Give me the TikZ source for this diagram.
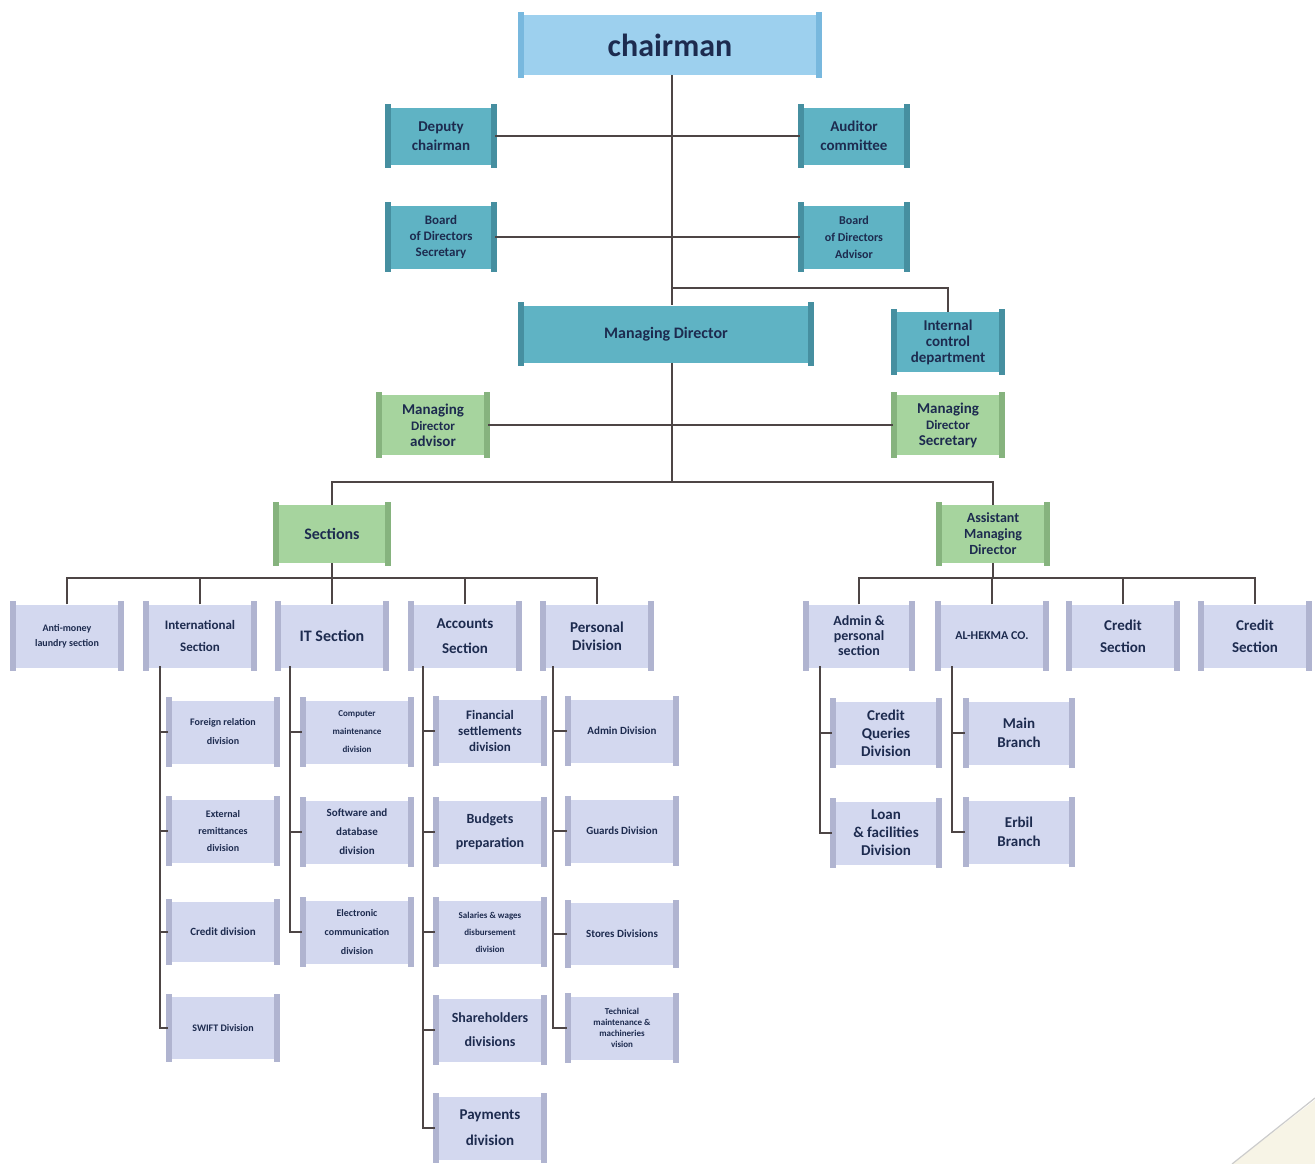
\documentclass[tikz,border=0pt]{standalone}
\usepackage{fontspec}
\setmainfont{Carlito}
\usetikzlibrary{calc}
\definecolor{skyF}{HTML}{9DD0EE}
\definecolor{skyE}{HTML}{78B8DE}
\definecolor{tealF}{HTML}{5FB3C4}
\definecolor{tealE}{HTML}{468FA0}
\definecolor{grnF}{HTML}{A6D49E}
\definecolor{grnE}{HTML}{86B37E}
\definecolor{lavF}{HTML}{D3D8EF}
\definecolor{lavE}{HTML}{B0B4D0}
\definecolor{txt}{HTML}{1D2B4F}
\definecolor{ln}{HTML}{4D4545}
\definecolor{curl}{HTML}{F7F4E6}
\newcommand\fs[2]{\fontsize{#1}{#2}\selectfont}
% name, cx, cy, w, h, kind, font, text
\newcommand\obox[8]{%
  \node[orgbox, fill=#6F, minimum width=#4pt, minimum height=#5pt, font={\bfseries#7}] (#1) at (#2,#3) {#8};
  \fill[#6E] ($(#1.north west)+(-2,-3)$) rectangle ($(#1.south west)+(4,3)$);
  \fill[#6E] ($(#1.north east)+(2,-3)$) rectangle ($(#1.south east)+(-4,3)$);
}
\begin{document}
\begin{tikzpicture}[x=1pt,y=-1pt,
  orgbox/.style={rectangle, draw=none, inner sep=1pt, align=center, text=txt},
  conn/.style={draw=ln, line width=2.8pt},
  tconn/.style={draw=ln, line width=2pt},
  sconn/.style={draw=ln, line width=2.4pt}]
\useasboundingbox (0,0) rectangle (1315,1164);
\fill[white] (0,0) rectangle (1315,1164);
\fill[curl] (1315,1100) -- (1232,1164) -- (1315,1164) -- cycle;
\draw[gray!40, line width=1.2pt] (1315,1098) -- (1232,1164);

% ---------- coordinates ----------
\coordinate (j3) at (672,288);
\coordinate (j5) at (672,482);
\coordinate (sbus) at (332,578);
\coordinate (abus) at (995,578);
\coordinate (intlT) at (160,666);
\coordinate (itT) at (290,666);
\coordinate (accT) at (423,666);
\coordinate (persT) at (553,666);
\coordinate (adpT) at (820,666);
\coordinate (hekT) at (952,666);

% ---------- top ----------
\obox{chair}{670}{45}{300}{60}{sky}{\fs{32}{36}}{chairman}
\obox{dep}{441}{136}{108}{57}{teal}{\fs{15}{19}}{Deputy\\chairman}
\obox{aud}{854}{136}{108}{57}{teal}{\fs{15}{19}}{Auditor\\committee}
\obox{bds}{441}{237}{108}{63}{teal}{\fs{13}{16}}{Board\\of Directors\\Secretary}
\obox{bda}{854}{237}{108}{63}{teal}{\fs{12}{17}}{Board\\of Directors\\Advisor}
\obox{md}{666}{334}{292}{57}{teal}{\fs{16}{19}}{Managing Director}
\obox{icd}{948}{342}{110}{60}{teal}{\fs{15}{16}}{Internal\\control\\department}
\obox{mda}{433}{425}{110}{60}{grn}{\fs{15}{16}}{Managing\\{\fs{13}{16}Director}\\advisor}
\obox{mds}{948}{425}{110}{60}{grn}{\fs{15}{16}}{Managing\\{\fs{13}{16}Director}\\Secretary}
\obox{sec}{332}{534}{113}{58}{grn}{\fs{16}{19}}{Sections}
\obox{amd}{993}{534}{110}{58}{grn}{\fs{14}{16}}{Assistant\\Managing\\Director}

% ---------- level 3 ----------
\obox{anti}{67}{636}{110}{63}{lav}{\fs{10}{15}}{Anti-money\\laundry section}
\obox{intl}{200}{636}{110}{63}{lav}{\fs{13}{22}}{International\\Section}
\obox{its}{332}{636}{110}{63}{lav}{\fs{16}{19}}{IT Section}
\obox{acc}{465}{636}{110}{63}{lav}{\fs{15}{25}}{Accounts\\Section}
\obox{pers}{597}{636}{110}{63}{lav}{\fs{15}{18}}{Personal\\Division}
\obox{adp}{859}{636}{108}{63}{lav}{\fs{14}{15}}{Admin \&\\personal\\section}
\obox{hek}{992}{636}{110}{63}{lav}{\fs{12}{15}}{AL-HEKMA CO.}
\obox{cs1}{1123}{636}{110}{63}{lav}{\fs{15}{22}}{Credit\\Section}
\obox{cs2}{1255}{636}{110}{63}{lav}{\fs{15}{22}}{Credit\\Section}

% ---------- International children ----------
\obox{frd}{223}{732}{110}{63}{lav}{\fs{10}{19}}{Foreign relation\\division}
\obox{erd}{223}{831}{110}{63}{lav}{\fs{10}{17}}{External\\remittances\\division}
\obox{crd}{223}{932}{110}{60}{lav}{\fs{11}{15}}{Credit division}
\obox{swd}{223}{1028}{110}{62}{lav}{\fs{10}{15}}{SWIFT Division}

% ---------- IT children ----------
\obox{cmd}{357}{732}{110}{63}{lav}{\fs{9}{18}}{Computer\\maintenance\\division}
\obox{sdd}{357}{832}{110}{63}{lav}{\fs{11}{19}}{Software and\\database\\division}
\obox{ecd}{357}{932}{110}{63}{lav}{\fs{10}{19}}{Electronic\\communication\\division}

% ---------- Accounts children ----------
\obox{fsd}{490}{731}{110}{63}{lav}{\fs{13}{16}}{Financial\\settlements\\division}
\obox{bpr}{490}{832}{110}{63}{lav}{\fs{14}{24}}{Budgets\\preparation}
\obox{swg}{490}{932}{110}{63}{lav}{\fs{9}{17}}{Salaries \& wages\\disbursement\\division}
\obox{shd}{490}{1030}{110}{63}{lav}{\fs{14}{24}}{Shareholders\\divisions}
\obox{pad}{490}{1128}{110}{63}{lav}{\fs{15}{26}}{Payments\\division}

% ---------- Personal children ----------
\obox{add}{622}{731}{110}{63}{lav}{\fs{11}{15}}{Admin Division}
\obox{gud}{622}{831}{110}{63}{lav}{\fs{11}{15}}{Guards Division}
\obox{std}{622}{934}{110}{62}{lav}{\fs{11}{15}}{Stores Divisions}
\obox{tmd}{622}{1028}{110}{63}{lav}{\fs{9}{11}}{Technical\\maintenance \&\\machineries\\vision}

% ---------- right children ----------
\obox{cqd}{886}{733}{108}{63}{lav}{\fs{15}{18}}{Credit\\Queries\\Division}
\obox{lfd}{886}{833}{108}{63}{lav}{\fs{15}{18}}{Loan\\\& facilities\\Division}
\obox{mbr}{1019}{733}{108}{63}{lav}{\fs{15}{19}}{Main\\Branch}
\obox{ebr}{1019}{832}{108}{63}{lav}{\fs{15}{19}}{Erbil\\Branch}

% ---------- connectors ----------
\draw[conn] (chair.south -| j5) -- (md.north -| j5);
\draw[conn] (md.south -| j5) -- (j5);
\draw[conn] (dep.east) -- (aud.west);
\draw[conn] (bds.east) -- (bda.west);
\draw[conn] (j3) -| (icd.north);
\draw[tconn] (mda.east) -- (mds.west);
\draw[conn] (sec.north) |- (j5) -| (amd.north);

\draw[conn] (sec.south) -- (sbus);
\draw[conn] (anti.north) |- (sbus) -| (pers.north);
\foreach \n in {intl,its,acc} \draw[conn] (\n.north) -- (\n.north |- sbus);

\draw[conn] (amd.south) -- (amd.south |- abus);
\draw[conn] (adp.north) |- (abus) -| (cs2.north);
\foreach \n in {hek,cs1} \draw[conn] (\n.north) -- (\n.north |- abus);

\draw[sconn] (intlT) |- (swd.west);
\foreach \n in {frd,erd,crd} \draw[sconn] (\n.west -| intlT) -- (\n.west);
\draw[sconn] (itT) |- (ecd.west);
\foreach \n in {cmd,sdd} \draw[sconn] (\n.west -| itT) -- (\n.west);
\draw[sconn] (accT) |- (pad.west);
\foreach \n in {fsd,bpr,swg,shd} \draw[sconn] (\n.west -| accT) -- (\n.west);
\draw[sconn] (persT) |- (tmd.west);
\foreach \n in {add,gud,std} \draw[sconn] (\n.west -| persT) -- (\n.west);
\draw[sconn] (adpT) |- (lfd.west);
\draw[sconn] (cqd.west -| adpT) -- (cqd.west);
\draw[sconn] (hekT) |- (ebr.west);
\draw[sconn] (mbr.west -| hekT) -- (mbr.west);
\end{tikzpicture}
\end{document}
